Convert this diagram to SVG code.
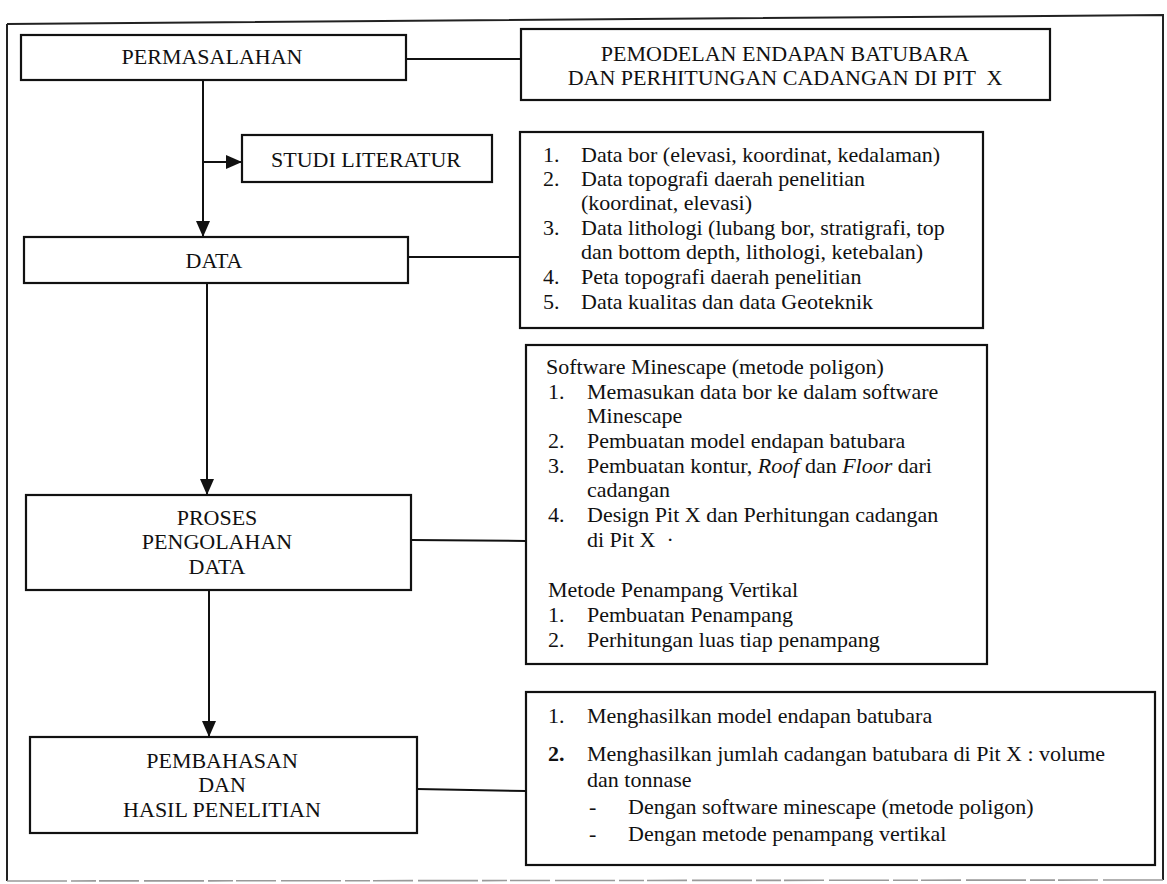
<svg xmlns="http://www.w3.org/2000/svg" width="1167" height="884" viewBox="0 0 1167 884">
<defs>
<style>
.box{fill:#fff;stroke:#111;stroke-width:2.2}
.frame{fill:none;stroke:#222;stroke-width:2}
.ln{stroke:#111;stroke-width:2;fill:none}
text{font-family:"Liberation Serif","Times New Roman",serif;fill:#111;font-size:22px}
.lbl{text-anchor:middle}
</style>
<marker id="arr" viewBox="0 0 16 14" refX="16" refY="7" markerWidth="16" markerHeight="14" markerUnits="userSpaceOnUse" orient="auto">
<path d="M0,0 L16,7 L0,14 Z" fill="#111"/>
</marker>
</defs>
<rect width="1167" height="884" fill="#fff"/>
<path class="frame" d="M7,24 L1163,15 L1163,880"/>
<path class="frame" d="M7,24 L7,881"/>
<line x1="7" y1="881" x2="1163" y2="880" stroke="#999" stroke-width="1.6" stroke-dasharray="60 4 25 3 40 5"/>

<g id="connectors">
<line class="ln" x1="406" y1="59" x2="521" y2="59"/>
<line class="ln" x1="203" y1="80" x2="203" y2="237" marker-end="url(#arr)"/>
<line class="ln" x1="202" y1="162" x2="242" y2="162" marker-end="url(#arr)"/>
<line class="ln" x1="408" y1="257" x2="520" y2="257"/>
<line class="ln" x1="207" y1="283" x2="207" y2="495" marker-end="url(#arr)"/>
<line class="ln" x1="411" y1="540" x2="526" y2="541"/>
<line class="ln" x1="209" y1="590" x2="209" y2="737" marker-end="url(#arr)"/>
<line class="ln" x1="417" y1="789" x2="526" y2="791"/>
</g>

<g id="permasalahan">
<rect class="box" x="21" y="35" width="385" height="45"/>
<text class="lbl" x="212" y="64">PERMASALAHAN</text>
</g>

<g id="judul">
<rect class="box" x="521" y="29" width="529" height="71"/>
<text class="lbl" x="785" y="61">PEMODELAN ENDAPAN BATUBARA</text>
<text class="lbl" x="785" y="85" xml:space="preserve">DAN PERHITUNGAN CADANGAN DI PIT  X</text>
</g>

<g id="studi">
<rect class="box" x="242" y="135" width="250" height="47"/>
<text class="lbl" x="366" y="167">STUDI LITERATUR</text>
</g>

<g id="data">
<rect class="box" x="24" y="237" width="384" height="46"/>
<text class="lbl" x="214" y="268">DATA</text>
</g>

<g id="data-list">
<rect class="box" x="520" y="132" width="463" height="196"/>
<text x="543" y="162">1.</text><text x="581" y="162">Data bor (elevasi, koordinat, kedalaman)</text>
<text x="543" y="186">2.</text><text x="581" y="186">Data topografi daerah penelitian</text>
<text x="581" y="210">(koordinat, elevasi)</text>
<text x="543" y="235">3.</text><text x="581" y="235">Data lithologi (lubang bor, stratigrafi, top</text>
<text x="581" y="259">dan bottom depth, lithologi, ketebalan)</text>
<text x="543" y="284">4.</text><text x="581" y="284">Peta topografi daerah penelitian</text>
<text x="543" y="309">5.</text><text x="581" y="309">Data kualitas dan data Geoteknik</text>
</g>

<g id="proses">
<rect class="box" x="26" y="495" width="385" height="95"/>
<text class="lbl" x="217" y="525">PROSES</text>
<text class="lbl" x="217" y="549">PENGOLAHAN</text>
<text class="lbl" x="217" y="574">DATA</text>
</g>

<g id="proses-list">
<rect class="box" x="526" y="345" width="461" height="319"/>
<text x="546" y="374">Software Minescape (metode poligon)</text>
<text x="548" y="399">1.</text><text x="587" y="399">Memasukan data bor ke dalam software</text>
<text x="587" y="423">Minescape</text>
<text x="548" y="448">2.</text><text x="587" y="448">Pembuatan model endapan batubara</text>
<text x="548" y="473">3.</text><text x="587" y="473">Pembuatan kontur, <tspan font-style="italic">Roof</tspan> dan <tspan font-style="italic">Floor</tspan> dari</text>
<text x="587" y="497">cadangan</text>
<text x="548" y="522">4.</text><text x="587" y="522">Design Pit X dan Perhitungan cadangan</text>
<text x="587" y="547" xml:space="preserve">di Pit X  ·</text>
<text x="548" y="597">Metode Penampang Vertikal</text>
<text x="548" y="622">1.</text><text x="587" y="622">Pembuatan Penampang</text>
<text x="548" y="647">2.</text><text x="587" y="647">Perhitungan luas tiap penampang</text>
</g>

<g id="pembahasan">
<rect class="box" x="30" y="737" width="387" height="96"/>
<text class="lbl" x="222" y="768">PEMBAHASAN</text>
<text class="lbl" x="222" y="792">DAN</text>
<text class="lbl" x="222" y="817">HASIL PENELITIAN</text>
</g>

<g id="hasil">
<rect class="box" x="526" y="692" width="629" height="173"/>
<text x="548" y="723">1.</text><text x="587" y="723">Menghasilkan model endapan batubara</text>
<text x="548" y="761" font-weight="bold">2.</text><text x="587" y="761">Menghasilkan jumlah cadangan batubara di Pit X : volume</text>
<text x="587" y="787">dan tonnase</text>
<text x="589" y="814">-</text><text x="628" y="814">Dengan software minescape (metode poligon)</text>
<text x="589" y="841">-</text><text x="628" y="841">Dengan metode penampang vertikal</text>
</g>
</svg>
